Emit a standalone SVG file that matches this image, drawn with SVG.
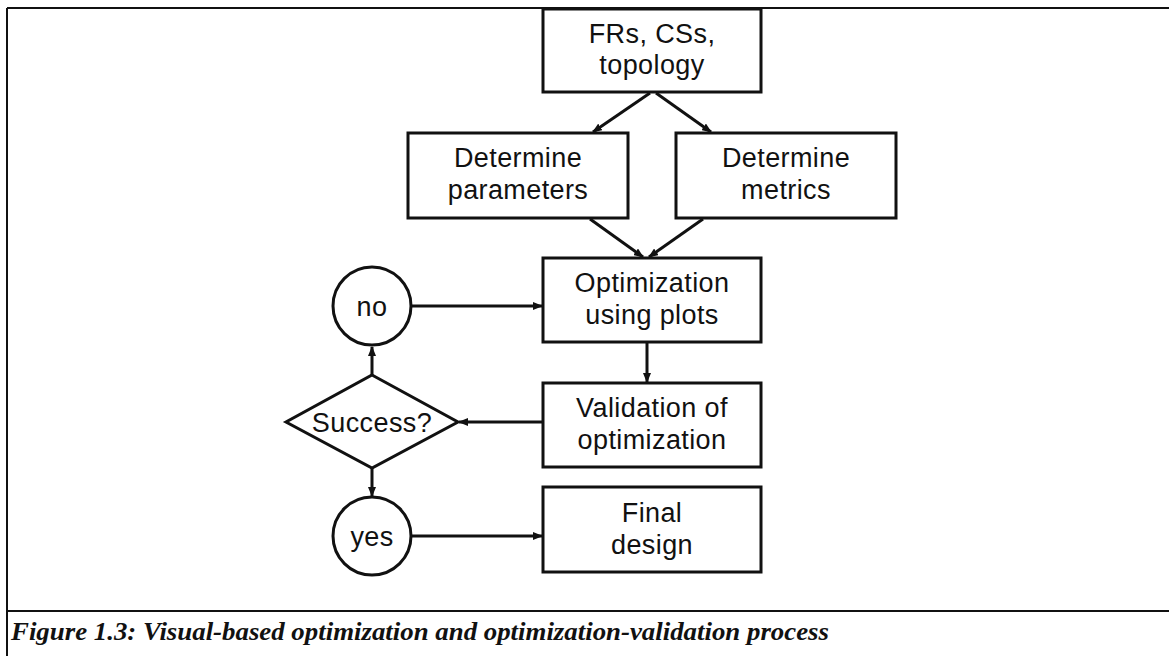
<svg xmlns="http://www.w3.org/2000/svg" width="1169" height="656" viewBox="0 0 1169 656">
<style>
.frame{stroke:#111;stroke-width:2;fill:none}
.box{fill:#fff;stroke:#111;stroke-width:3}
.lbl{font-family:"Liberation Sans",Arial,sans-serif;font-size:27px;letter-spacing:0.4px;fill:#111;text-anchor:middle}
.conn{stroke:#111;stroke-width:3;fill:none;marker-end:url(#ah)}
.cap{font-family:"Liberation Serif","Times New Roman",serif;font-style:italic;font-weight:bold;font-size:25px;fill:#111}
</style>
<defs>
<marker id="ah" markerWidth="10" markerHeight="8" refX="9" refY="4" orient="auto" markerUnits="userSpaceOnUse">
<path d="M0,0 L10,4 L0,8 Z" fill="#111"/>
</marker>
</defs>
<rect width="1169" height="656" fill="#fff"/>
<g id="frame">
<line class="frame" x1="7" y1="8" x2="1169" y2="8"/>
<line class="frame" x1="7" y1="8" x2="7" y2="656"/>
<line class="frame" x1="7" y1="611" x2="1169" y2="611"/>
</g>
<g id="connectors">
<line class="conn" x1="650" y1="93" x2="593" y2="132"/>
<line class="conn" x1="656" y1="93" x2="711" y2="132"/>
<line class="conn" x1="590" y1="219" x2="643" y2="257"/>
<line class="conn" x1="703" y1="219" x2="649" y2="257"/>
<line class="conn" x1="647" y1="342" x2="647" y2="382"/>
<line class="conn" x1="543" y1="422" x2="459" y2="422"/>
<line class="conn" x1="372" y1="375" x2="372" y2="347"/>
<line class="conn" x1="412" y1="306" x2="542" y2="306"/>
<line class="conn" x1="372" y1="468" x2="372" y2="496"/>
<line class="conn" x1="411" y1="536" x2="542" y2="536"/>
</g>
<g id="frs">
<rect class="box" x="543" y="9" width="218" height="83"/>
<text class="lbl" x="652" y="43">FRs, CSs,</text>
<text class="lbl" x="652" y="74">topology</text>
</g>
<g id="params">
<rect class="box" x="408" y="133" width="220" height="85"/>
<text class="lbl" x="518" y="167">Determine</text>
<text class="lbl" x="518" y="199">parameters</text>
</g>
<g id="metrics">
<rect class="box" x="676" y="133" width="220" height="85"/>
<text class="lbl" x="786" y="167">Determine</text>
<text class="lbl" x="786" y="199">metrics</text>
</g>
<g id="optim">
<rect class="box" x="543" y="258" width="218" height="84"/>
<text class="lbl" x="652" y="292">Optimization</text>
<text class="lbl" x="652" y="324">using plots</text>
</g>
<g id="valid">
<rect class="box" x="543" y="383" width="218" height="84"/>
<text class="lbl" x="652" y="417">Validation of</text>
<text class="lbl" x="652" y="449">optimization</text>
</g>
<g id="final">
<rect class="box" x="543" y="487" width="218" height="85"/>
<text class="lbl" x="652" y="522">Final</text>
<text class="lbl" x="652" y="554">design</text>
</g>
<g id="no">
<circle class="box" cx="372" cy="306" r="39"/>
<text class="lbl" x="372" y="316">no</text>
</g>
<g id="success">
<polygon class="box" points="372,375 458,422 372,468 286,422"/>
<text class="lbl" x="372" y="432">Success?</text>
</g>
<g id="yes">
<circle class="box" cx="372" cy="536" r="39"/>
<text class="lbl" x="372" y="546">yes</text>
</g>
<text class="cap" x="11" y="640" textLength="818" lengthAdjust="spacingAndGlyphs">Figure 1.3: Visual-based optimization and optimization-validation process</text>
</svg>
